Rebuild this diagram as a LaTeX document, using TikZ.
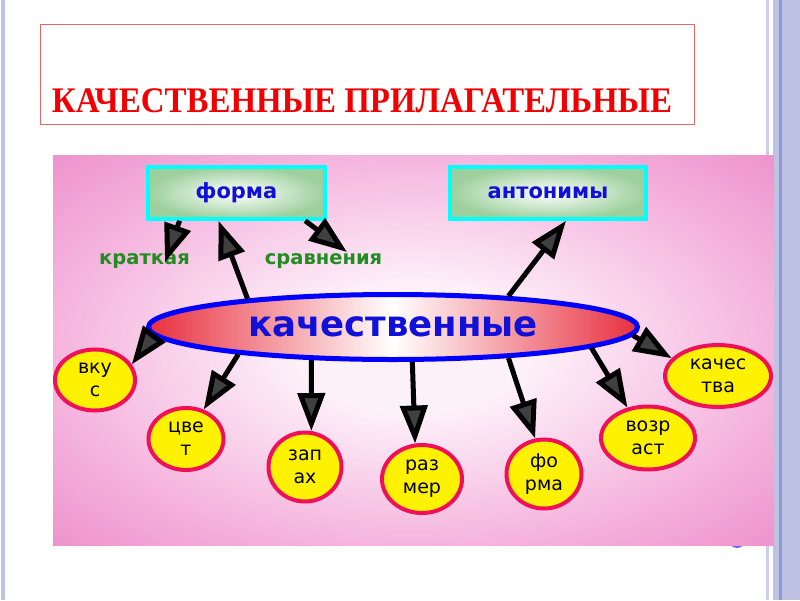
\documentclass[tikz,border=0pt]{standalone}
\usepackage{fontspec}
\setmainfont{Liberation Serif}
\newfontfamily\vfont{DejaVu Sans}
\usetikzlibrary{shapes.geometric,arrows.meta}
\definecolor{titlered}{HTML}{F00000}
\definecolor{framered}{HTML}{E06868}
\definecolor{bgpink}{HTML}{EE94CE}
\definecolor{bgmid}{HTML}{F5B4DE}
\definecolor{bgpale}{HTML}{FDF1F9}
\definecolor{lavender}{HTML}{BEC3E3}
\definecolor{lavdark}{HTML}{8C99D4}
\definecolor{boxcyan}{HTML}{00FFFF}
\definecolor{boxgreen}{HTML}{9ED09E}
\definecolor{textblue}{HTML}{1010D8}
\definecolor{lblgreen}{HTML}{228B22}
\definecolor{ringred}{HTML}{F0105A}
\definecolor{ellred}{HTML}{E8303F}
\pgfdeclareradialshading{bgshade}{\pgfpoint{0bp}{0bp}}{color(0bp)=(bgpale); color(8bp)=(bgpale);
  color(25bp)=(bgmid); color(35bp)=(bgpink); color(50bp)=(bgpink)}
\begin{document}
\begin{tikzpicture}[x=1pt,y=-1pt,
    box/.style={rectangle,draw=boxcyan,line width=3.5pt,inner color=white,outer color=boxgreen,
      minimum height=52pt,font=\vfont\bfseries\fontsize{21}{24}\selectfont,text=textblue},
    lbl/.style={font=\vfont\bfseries\fontsize{19.5}{22}\selectfont,text=lblgreen},
    leaf/.style={ellipse,draw=ringred,line width=4pt,fill=yellow,inner sep=0pt,align=center,
      font=\vfont\fontsize{19}{23}\selectfont},
    arr/.style={line width=5pt,-{Triangle[length=38pt,width=27pt,fill=black!75]}}
  ]
  % page and frame
  \fill[white] (0,0) rectangle (800,600);
  \fill[lavender] (1,0) rectangle (5,600);
  \fill[lavender!80] (766,0) rectangle (769,600);
  \fill[lavender] (773,0) rectangle (800,600);
  \fill[lavdark] (779,0) rectangle (782,600);
  \fill[blue!60!white] (737,536) ellipse (10 and 12);

  % title
  \draw[framered] (40,24) rectangle (694,124);
  \node[anchor=base,font=\bfseries\fontsize{36}{36}\selectfont,text=titlered] (title) at (362,112)
    {\scalebox{0.915}[1]{КАЧЕСТВЕННЫЕ ПРИЛАГАТЕЛЬНЫЕ}};

  % background of the scheme
  \shade[shading=bgshade] (53,155) rectangle (774,545);

  % top boxes
  \node[box,minimum width=177pt] (forma) at (236.5,193) {форма};
  \node[box,minimum width=196pt] (anto) at (548,193) {антонимы};
  \node[lbl] (kratk) at (144.5,261) {краткая};
  \node[lbl] (sravn) at (323.5,261) {сравнения};
  \coordinate (krTip) at (165,262);
  \coordinate (srTip) at (347,252);

  % centre
  \node[ellipse,draw=blue,line width=5pt,minimum width=489pt,minimum height=65pt,inner sep=0pt,
    left color=ellred,right color=ellred,middle color=white,
    font=\vfont\bfseries\fontsize{35.5}{38}\selectfont,text=textblue] (kach) at (393,327) {качественные};

  % leaves
  \node[leaf,minimum width=80pt,minimum height=61pt] (vkus) at (95,380) {вку\\с};
  \node[leaf,minimum width=75pt,minimum height=62pt] (cvet) at (186,439) {цве\\т};
  \node[leaf,minimum width=73pt,minimum height=69pt] (zapah) at (305,467) {зап\\ах};
  \node[leaf,minimum width=80pt,minimum height=68pt] (razmer) at (422,479) {раз\\мер};
  \node[leaf,minimum width=75pt,minimum height=69pt] (fshape) at (544,474) {фо\\рма};
  \node[leaf,minimum width=94pt,minimum height=63pt] (vozrast) at (648,438) {возр\\аст};
  \node[leaf,minimum width=106pt,minimum height=62pt] (kachestva) at (718,376) {качес\\тва};

  % arrows
  \draw[arr] (forma.206) -- (krTip);
  \draw[arr] (forma.338) -- (srTip);
  \draw[arr] (kach.169) -- (forma.237);
  \draw[arr] (kach.15) -- (anto.303);
  \draw[arr] (kach.182.5) -- (vkus.23);
  \draw[arr] (kach.190) -- (cvet.59);
  \draw[arr] (kach.202) -- (zapah.80);
  \draw[arr] (kach.299) -- (razmer.101);
  \draw[arr] (kach.345) -- (fshape.104);
  \draw[arr] (kach.354) -- (vozrast.124);
  \draw[arr] (kach.358.5) -- (kachestva.159);
\end{tikzpicture}
\end{document}
